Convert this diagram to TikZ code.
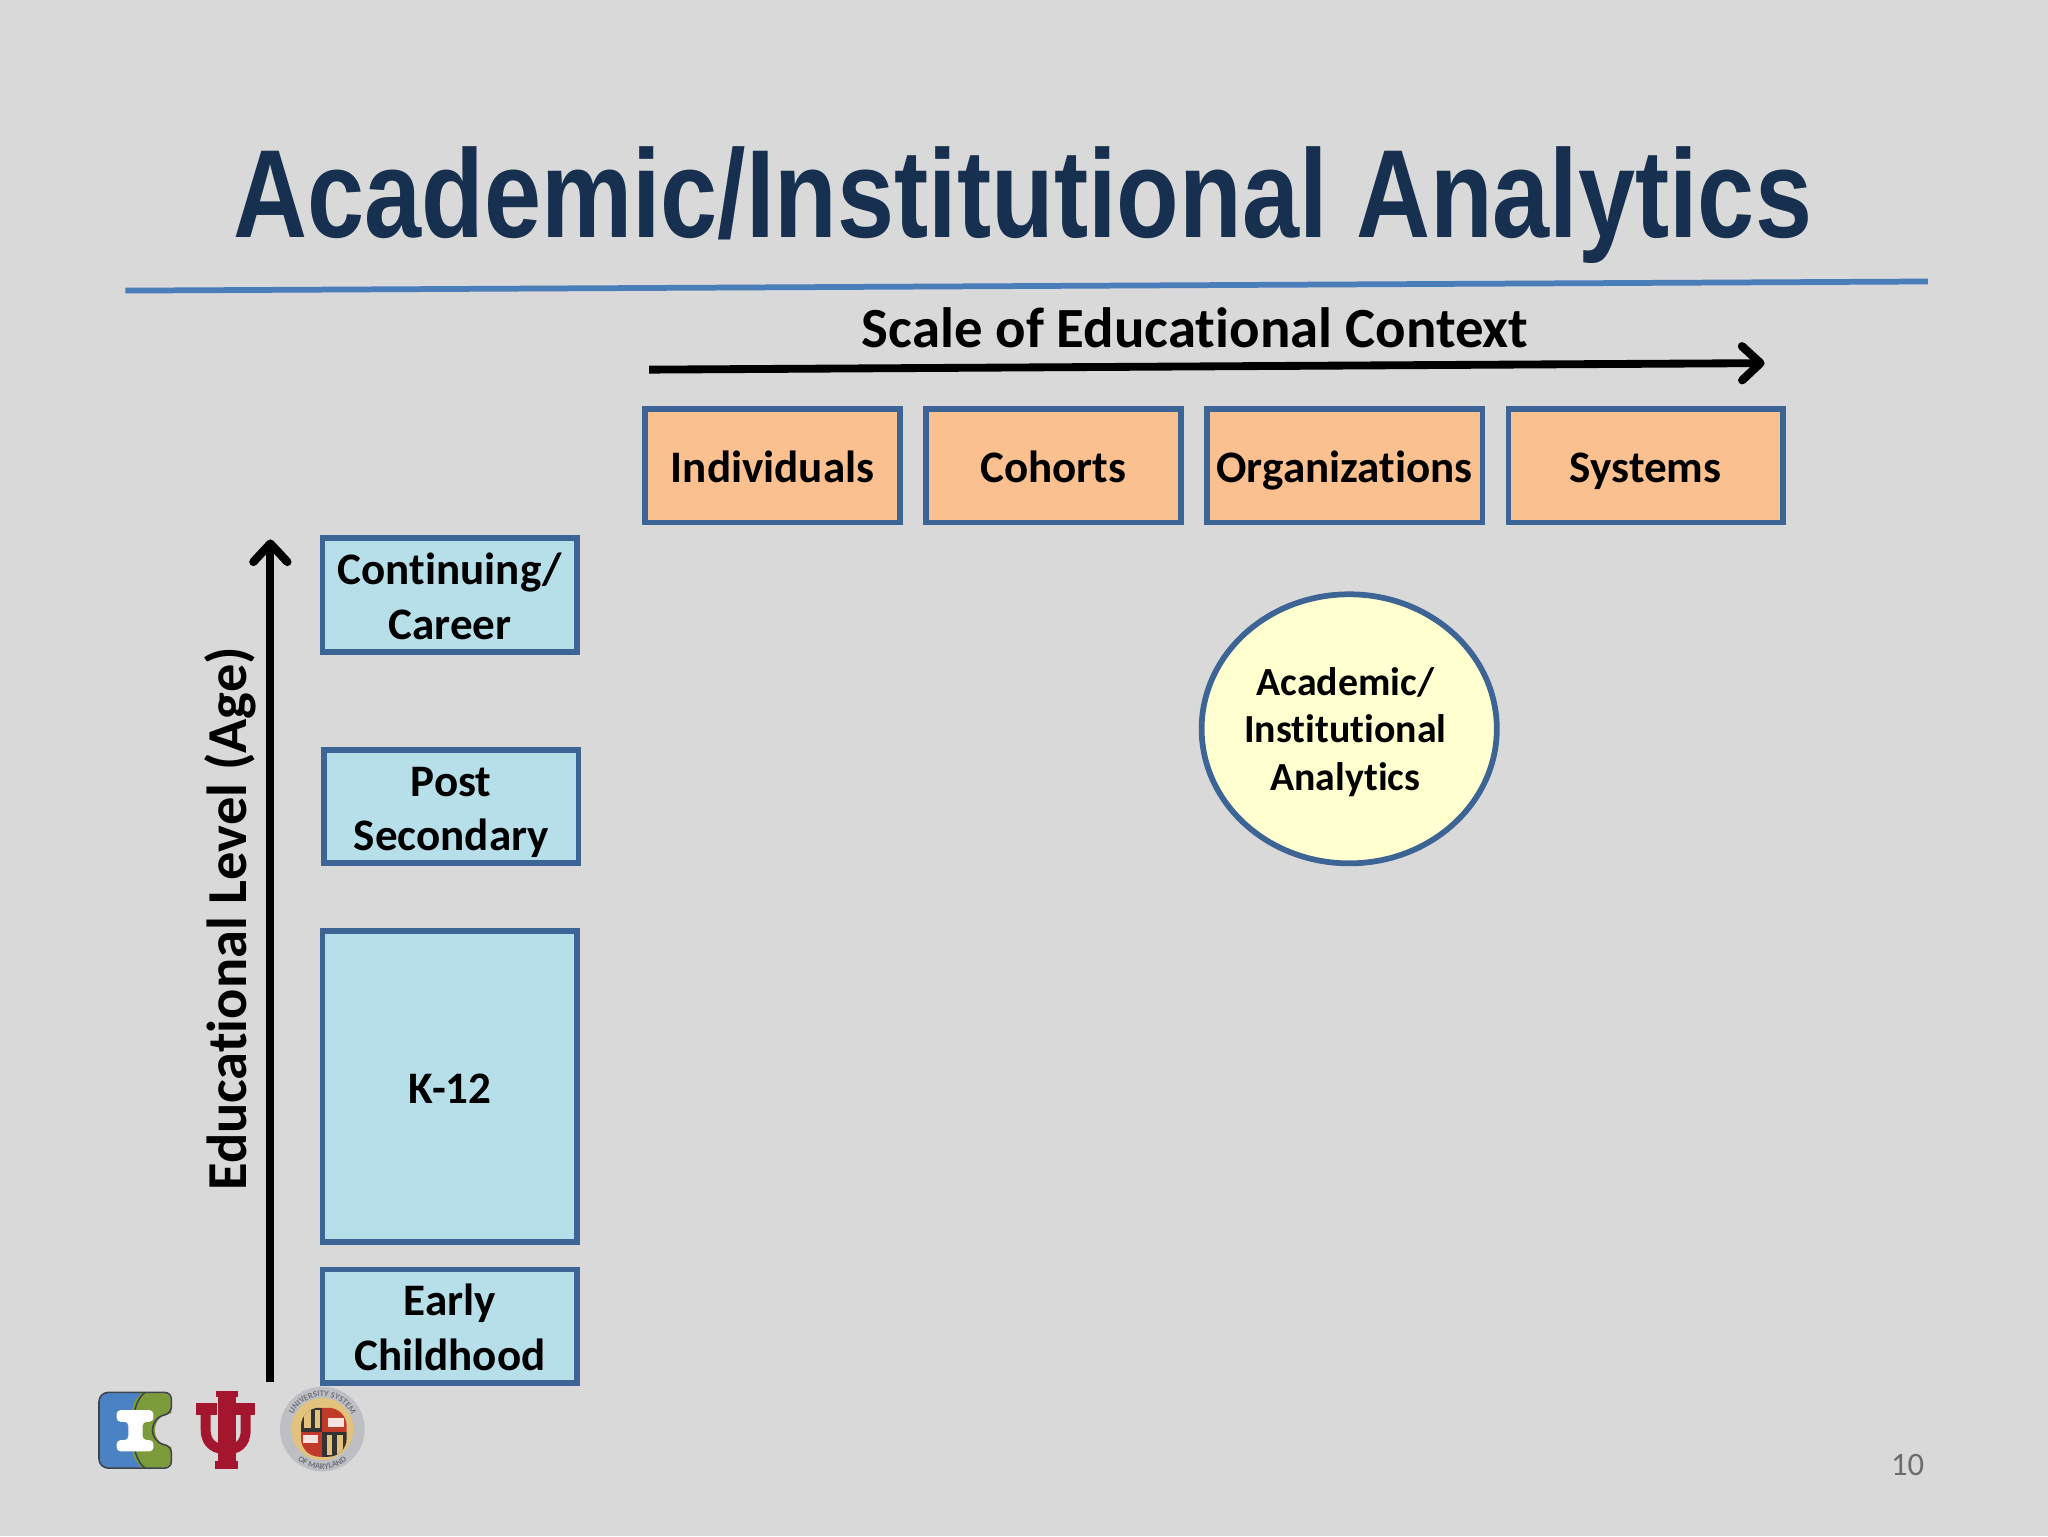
\documentclass[tikz,border=0pt]{standalone}
\usepackage{fontspec}
\setmainfont[Ligatures=NoCommon]{Carlito}
\newfontfamily\titlefont{Liberation Sans}
\usetikzlibrary{arrows.meta,shapes.geometric,decorations.text}
\definecolor{bgc}{HTML}{D9D9DA}
\definecolor{titlec}{HTML}{17304F}
\definecolor{rulec}{HTML}{4A7EBB}
\definecolor{edgec}{HTML}{3C6494}
\definecolor{orangec}{HTML}{FBC08F}
\definecolor{bluec}{HTML}{B7DFE9}
\definecolor{yellowc}{HTML}{FFFFD0}
\definecolor{logodark}{HTML}{3F444B}
\definecolor{logoblue}{HTML}{4A82C3}
\definecolor{logogreen}{HTML}{7C9C3C}
\definecolor{iured}{HTML}{A3162E}
\definecolor{sealgold}{HTML}{E3C27E}
\definecolor{sealgray}{HTML}{6F727C}
\definecolor{sealred}{HTML}{C23B2A}
\newcommand{\ls}{\rule[-8pt]{0pt}{42pt}}
\tikzset{
  boxbase/.style={draw=edgec,line width=4.4pt,inner sep=0pt,align=center,text=black,font=\fontsize{34.5}{42}\selectfont\bfseries},
  topbox/.style={boxbase,fill=orangec},
  sidebox/.style={boxbase,fill=bluec},
  bigarrow/.style={line width=6pt,draw=black,-{Straight Barb[length=14pt,width=26pt,line width=6.4pt,line cap=round,round]}},
}
\newcommand{\boxat}[7]{% style,name,x0,y0,x1,y1,text
  \pgfmathsetmacro{\bw}{#5-#3}\pgfmathsetmacro{\bh}{#6-#4}
  \node[#1,minimum width=\bw pt,minimum height=\bh pt] (#2) at ({(#3+#5)/2},{(#4+#6)/2}) {#7};}
\begin{document}
\begin{tikzpicture}[x=1pt,y=-1pt]
\useasboundingbox (0,0) rectangle (1568,1176);
\fill[bgc] (0,0) rectangle (1568,1176);

\node[font=\titlefont\bfseries\fontsize{96}{110}\selectfont,text=titlec,xscale=.818,inner sep=0pt] (title) at (783,157) {Academic/Institutional Analytics};
\coordinate (ruleL) at (96,222.5);
\coordinate (ruleR) at (1476,215.5);
\draw[rulec,line width=4.4pt] (ruleL) -- (ruleR);

\node[font=\fontsize{43.5}{48}\selectfont\bfseries,inner sep=0pt] (scalelabel) at (915,251) {Scale of Educational Context};
\coordinate (hS) at (497,283);
\coordinate (hE) at (1351,278);
\draw[bigarrow] (hS) -- (hE);

\boxat{topbox}{ind}{494}{313}{689}{400}{\ls Individuals}
\boxat{topbox}{coh}{709}{313}{904}{400}{\ls Cohorts}
\boxat{topbox}{org}{924}{313}{1135}{400}{\ls Organizations}
\boxat{topbox}{sys}{1155}{313}{1365}{400}{\ls Systems}

\boxat{sidebox}{cont}{247}{412}{442}{499}{\ls Continuing/\\\ls Career}
\boxat{sidebox}{post}{248}{574}{443}{661}{\ls Post\\\ls Secondary}
\boxat{sidebox}{k12}{247}{713}{442}{951}{\ls K-12}
\boxat{sidebox}{early}{247}{972}{442}{1059}{\ls Early\\\ls Childhood}

\coordinate (vS) at (207,1058);
\coordinate (vE) at (207,413);
\draw[bigarrow] (vS) -- (vE);
\node[font=\fontsize{43.2}{48}\selectfont\bfseries,rotate=90,inner sep=0pt] (agelabel) at (176,703.5) {Educational Level (Age)};

\node[ellipse,draw=edgec,line width=4.4pt,fill=yellowc,minimum width=226pt,minimum height=206pt,inner sep=0pt] (circ) at (1033,558) {};
\node[font=\fontsize{30.5}{36.5}\selectfont\bfseries,align=center,inner sep=0pt] (circtext) at (1030,561.5) {\strut Academic/\\\strut Institutional\\\strut Analytics};

\node[font=\fontsize{25}{30}\selectfont,text=gray!85!black,inner sep=0pt] (pagenum) at (1460.5,1122) {10};

% logos, drawn in the coordinates of the enlarged crop
\begin{scope}[shift={(53.6,1041.3)},x=0.2552pt,y=-0.2552pt]
  % I logo
  \fill[logogreen,rounded corners=7pt] (150,97) rectangle (304,324);
  \fill[logoblue,rounded corners=7pt] (87,97) -- (225,97) .. controls (175,130) and (175,290) .. (225,324) -- (87,324) -- cycle;
  \fill[bgc] (305,210) circle [x radius=50,y radius=50];
  \fill[bgc] (306,150) rectangle (320,270);
  \draw[logodark,line width=1.2pt,rounded corners=7pt] (225,97) -- (87,97) -- (87,324) -- (225,324);
  \draw[logodark,line width=1.2pt,rounded corners=5pt] (225,97) -- (304,97) -- (304,160) .. controls (235,175) and (235,245) .. (304,258) -- (304,324) -- (225,324);
  \draw[logodark,line width=1.2pt] (225,97) .. controls (175,130) and (175,290) .. (225,324);
  \fill[white,rounded corners=3pt] (140,150) -- (250,150) -- (250,185) -- (218,185) -- (218,240) -- (250,240) -- (250,274) -- (140,274) -- (140,240) -- (175,240) -- (175,185) -- (140,185) -- cycle;
  % trident
  \draw[iured,line width=7.6pt,line cap=butt] (407,135) -- (407,210) .. controls (407,255) and (440,268) .. (470,268) .. controls (500,268) and (527,255) .. (527,210) -- (527,135);
  \fill[iured] (378,128) rectangle (440,166);
  \fill[iured] (498,128) rectangle (555,166);
  \fill[iured] (445,92) rectangle (497,325);
  \fill[iured] (437,92) rectangle (505,112);
  \fill[iured] (435,302) rectangle (505,326);
  % seal
  \fill[sealgray!25!bgc] (757,207) circle [radius=127];
  \fill[sealgold] (757,207) circle [radius=93];
  \begin{scope}
    \clip[rounded corners=14pt] (693,143) rectangle (830,290);
    \fill[black!80] (680,130) rectangle (757,215);
    \fill[sealred] (757,130) rectangle (835,215);
    \fill[sealred] (680,215) rectangle (757,295);
    \fill[black!80] (757,215) rectangle (835,295);
    \fill[sealgold] (703,150) rectangle (722,205);
    \fill[sealgold] (735,150) rectangle (750,205);
    \fill[white!85!sealred] (775,175) rectangle (822,200);
    \fill[white!85!sealred] (700,225) rectangle (745,250);
    \fill[sealgold] (770,225) rectangle (785,285);
    \fill[sealgold] (800,225) rectangle (820,285);
  \end{scope}
  \path[decorate,decoration={text along path,text align=center,text={|\fontsize{6.5}{7}\selectfont\bfseries\color{sealgray}|UNIVERSITY SYSTEM}}] (757,207) ++(150:98) arc[start angle=150,end angle=390,radius=98];
  \path[decorate,decoration={text along path,text align=center,text={|\fontsize{6.5}{7}\selectfont\bfseries\color{sealgray}|OF MARYLAND}}] (757,207) ++(160:120) arc[start angle=160,end angle=20,radius=120];
\end{scope}
\end{tikzpicture}
\end{document}
